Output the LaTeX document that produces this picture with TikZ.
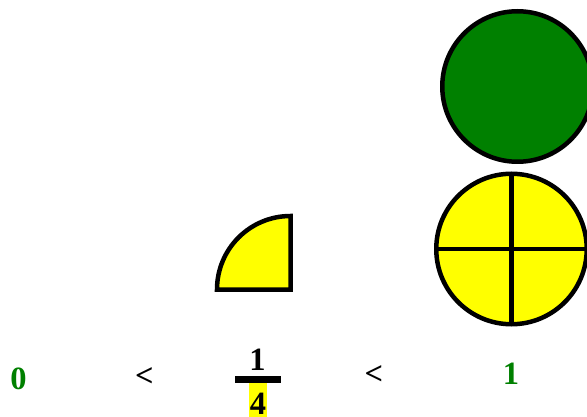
\documentclass[tikz,border=0pt]{standalone}
\usepackage{fontspec}
\setmainfont{Liberation Serif}
\usepackage{xcolor}
\usepackage{tikz}
\usetikzlibrary{positioning}
\definecolor{webgreen}{HTML}{008000}
\definecolor{brightyellow}{HTML}{FFFF00}

\begin{document}
\begin{tikzpicture}[x=1pt, y=-1pt,
  txt/.style={inner sep=0pt, font=\fontsize{32.5}{36}\selectfont\bfseries},
  piece/.style={draw, line width=4.5pt, outer sep=0pt}]
  \useasboundingbox (0,0) rectangle (587,417);
  % the whole and the one cut in four
  \node[piece, circle, fill=webgreen, minimum size=150.5pt] (whole) at (517.5,86.5) {};
  \node[piece, circle, fill=brightyellow, minimum size=150.5pt] (parts) at (511.5,249) {};
  \draw[piece] (parts.north) -- (parts.south);
  \draw[piece] (parts.west) -- (parts.east);
  % one quarter
  \draw[piece, fill=brightyellow] (290.5,289.5) -- ++(0,-73.5)
    arc[start angle=90, end angle=180, radius=73.5pt] -- cycle;
  % the inequality
  \node[txt, text=webgreen] (zero) at (18.5,379) {0};
  \node[txt] (lt1) at (144.5,377) {<};
  \node[txt] (num) at (257.5,359.5) {1};
  \node[fill, inner sep=0pt, minimum width=46pt, minimum height=7pt] (bar) at (258,379.5) {};
  \node[txt, fill=brightyellow, inner xsep=1pt, text height=31pt, text depth=3pt, anchor=base] (den) at (258,414) {4};
  \node[txt] (lt2) at (374,375.5) {<};
  \node[txt, text=webgreen] (one) at (511,373.5) {1};
\end{tikzpicture}
\end{document}
